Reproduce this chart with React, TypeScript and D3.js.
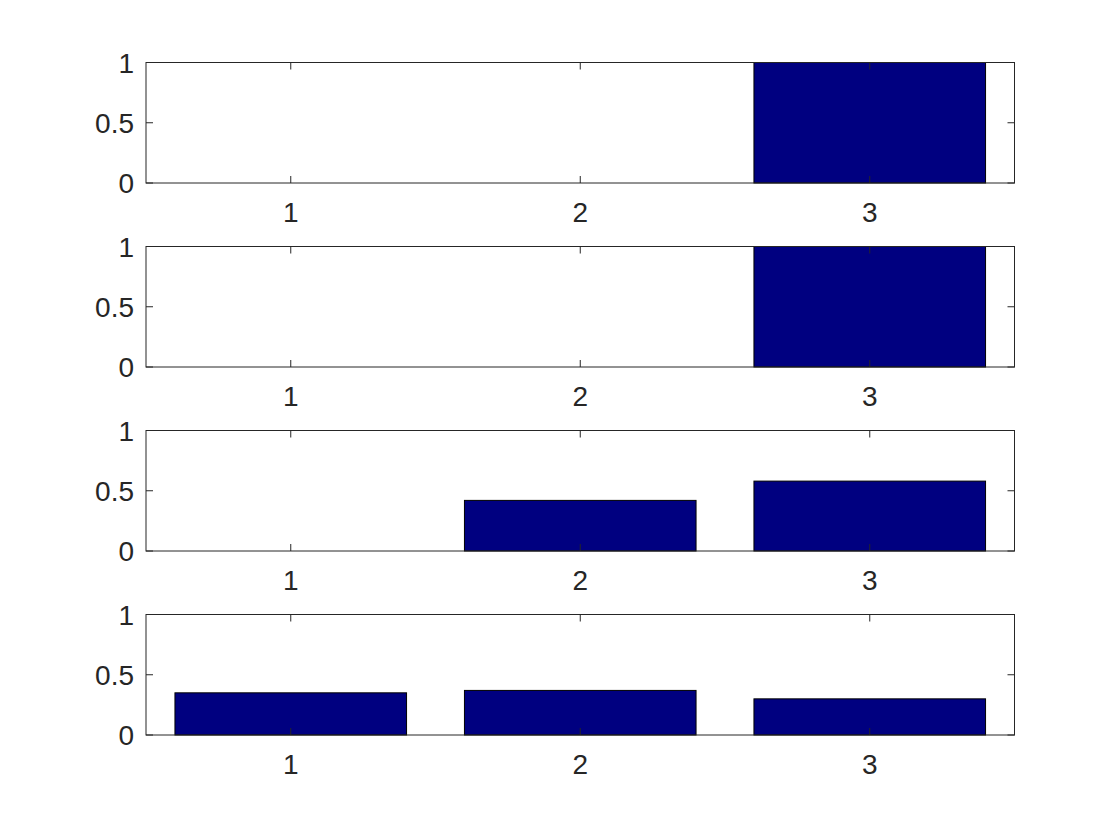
import React from "react";
import * as d3 from "d3";

const categories = [1, 2, 3];
const series1 = [0, 0, 1];
const series2 = [0, 0, 1];
const series3 = [0, 0.42, 0.58];
const series4 = [0.35, 0.37, 0.3];
const allSeries = [series1, series2, series3, series4];
const yTicks = [0, 0.5, 1];
const yTickLabels = ["0", "0.5", "1"];

const W = 1120;
const H = 840;
const left = 146;
const right = 1014.5;
const tops = [62.5, 246.5, 430.5, 614.5];
const plotH = 120.5;
const axisColor = "#262626";
const font = "'Liberation Sans', Arial, Helvetica, sans-serif";

export default function App() {
  const x = d3.scaleLinear().domain([0.5, 3.5]).range([left, right]);
  const barW = x(0.8) - x(0);
  const tickLen = 7;
  return (
    <svg width={W} height={H} style={{ display: "block", position: "absolute", left: 0, top: 0 }}>
      <rect width={W} height={H} fill="#fff" />
      {allSeries.map((vals, i) => {
        const top = tops[i];
        const y = d3.scaleLinear().domain([0, 1]).range([top + plotH, top]);
        return (
          <g key={i}>
            {vals.map((v, j) => (
              <rect
                key={j}
                x={x(categories[j]) - barW / 2}
                y={y(v)}
                width={barW}
                height={y(0) - y(v)}
                fill="#000080"
                stroke="#000"
                strokeWidth={1}
              />
            ))}
            <rect x={left} y={top} width={right - left} height={plotH} fill="none" stroke={axisColor} strokeWidth={1} />
            {categories.map((c) => (
              <g key={c}>
                <line x1={x(c)} x2={x(c)} y1={y(0)} y2={y(0) - tickLen} stroke={axisColor} />
                <line x1={x(c)} x2={x(c)} y1={y(1)} y2={y(1) + tickLen} stroke={axisColor} />
                <text x={x(c)} y={y(0) + 39} textAnchor="middle" fontFamily={font} fontSize={28} fill={axisColor}>
                  {c}
                </text>
              </g>
            ))}
            {yTicks.map((t, k) => (
              <g key={t}>
                <line x1={left} x2={left + tickLen} y1={y(t)} y2={y(t)} stroke={axisColor} />
                <line x1={right} x2={right - tickLen} y1={y(t)} y2={y(t)} stroke={axisColor} />
                <text x={left - 12} y={y(t)} dy="0.36em" textAnchor="end" fontFamily={font} fontSize={28} fill={axisColor}>
                  {yTickLabels[k]}
                </text>
              </g>
            ))}
          </g>
        );
      })}
    </svg>
  );
}
